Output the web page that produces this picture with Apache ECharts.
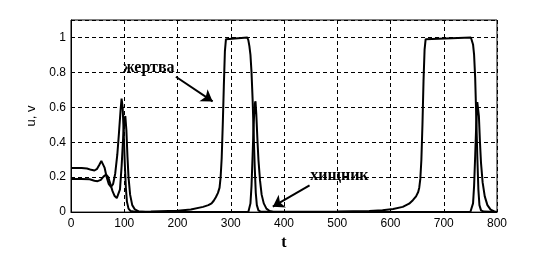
<!DOCTYPE html>
<html>
<head>
<meta charset="utf-8">
<script src="https://cdn.jsdelivr.net/npm/echarts@6/dist/echarts.min.js"></script>
<style>
  html, body { margin: 0; padding: 0; background: #fff; }
  #chart { width: 549px; height: 256px; }
</style>
</head>
<body>
<div id="chart"></div>
<script>
// t values for the x axis ticks
const tTicks = [0, 100, 200, 300, 400, 500, 600, 700, 800];
const uvTicks = [0, 0.2, 0.4, 0.6, 0.8, 1];

// жертва (prey), pairs of [t, u]
const prey = [
  [0, 0.252], [20, 0.252], [30, 0.25], [38, 0.242], [44, 0.238], [49, 0.248],
  [53, 0.27], [57, 0.293], [60, 0.285], [63, 0.255], [67, 0.2], [71, 0.16],
  [75, 0.145], [79, 0.16], [83, 0.22], [87, 0.33], [90, 0.45], [93, 0.58],
  [95, 0.65], [97, 0.6], [99, 0.45], [101, 0.28], [103, 0.14], [105, 0.06],
  [108, 0.02], [112, 0.006], [120, 0.002], [150, 0.003], [200, 0.008],
  [225, 0.015], [248, 0.03], [258, 0.04], [264, 0.05], [268, 0.065],
  [272, 0.085], [276, 0.11], [279, 0.14], [281, 0.2], [283, 0.31],
  [285, 0.5], [287, 0.72], [289, 0.92], [291, 0.99], [292.5, 1],
  [331, 1], [333, 0.985], [335, 0.95], [337, 0.9], [339, 0.8], [341, 0.65],
  [343, 0.45], [345, 0.26], [347, 0.11], [349, 0.04], [352, 0.01],
  [356, 0.003], [400, 0.002], [500, 0.004], [560, 0.007], [585, 0.011],
  [605, 0.018], [623, 0.03], [635, 0.048], [642, 0.068], [648, 0.09],
  [652, 0.115], [654, 0.14], [656, 0.19], [658, 0.3], [660, 0.5],
  [662, 0.75], [664, 0.93], [666, 0.99], [668, 1],
  [751, 1], [753, 0.99], [755, 0.96], [757, 0.9], [759, 0.77], [761, 0.55],
  [763, 0.32], [765, 0.13], [767, 0.04], [770, 0.01], [775, 0.003], [800, 0.001]
];

// хищник (predator), pairs of [t, v]
const predator = [
  [0, 0.19], [20, 0.19], [35, 0.188], [44, 0.18], [50, 0.177], [56, 0.185],
  [61, 0.203], [66, 0.215], [70, 0.2], [74, 0.16], [78, 0.12], [82, 0.092],
  [86, 0.08], [89, 0.085], [92, 0.13], [95, 0.26], [98, 0.43], [100, 0.52],
  [102, 0.55], [104, 0.47], [106, 0.32], [108, 0.2], [111, 0.1], [115, 0.04],
  [120, 0.015], [127, 0.004], [140, 0.001],
  [333, 0.001], [335, 0.01], [337, 0.05], [339, 0.15], [341, 0.32],
  [343, 0.5], [345, 0.62], [346.5, 0.634], [348, 0.56], [350, 0.42],
  [352, 0.3], [355, 0.18], [358, 0.1], [362, 0.05], [367, 0.02],
  [373, 0.006], [380, 0.001],
  [750, 0.001], [753, 0.01], [755, 0.05], [757, 0.15], [759, 0.32],
  [761, 0.5], [763, 0.63], [764, 0.64], [766, 0.55], [768, 0.4],
  [770, 0.28], [773, 0.17], [777, 0.09], [782, 0.04], [788, 0.014],
  [795, 0.004], [800, 0.001]
];

const chart = echarts.init(document.getElementById('chart'), null, { renderer: 'canvas' });

const noteFont = { fontFamily: 'Liberation Serif', fontWeight: 'bold', fontSize: 16, color: '#000' };

const option = {
  animation: false,
  grid: {
    left: 71, right: 52, top: 20, bottom: 42,
    show: true, borderColor: '#000', borderWidth: 1
  },
  xAxis: {
    type: 'value',
    min: tTicks[0], max: tTicks[tTicks.length - 1], interval: 100,
    name: 't', nameLocation: 'middle', nameGap: 20,
    nameTextStyle: { fontFamily: 'Liberation Serif', fontWeight: 'bold', fontSize: 16, color: '#000' },
    axisLine: { show: true, lineStyle: { color: '#000', width: 1 } },
    axisTick: { show: false },
    axisLabel: { color: '#000', fontFamily: 'Liberation Sans', fontSize: 12, margin: 6 },
    splitLine: { show: true, lineStyle: { color: '#000', type: [4, 3], width: 1 } }
  },
  yAxis: {
    type: 'value',
    min: uvTicks[0], max: 1.1, interval: 0.2,
    name: 'u, v', nameLocation: 'middle', nameGap: 32,
    nameTextStyle: { fontFamily: 'Liberation Sans', fontSize: 13, color: '#000' },
    axisLine: { show: true, lineStyle: { color: '#000', width: 1 } },
    axisTick: { show: false },
    axisLabel: { color: '#000', fontFamily: 'Liberation Sans', fontSize: 12, margin: 5, showMaxLabel: false },
    splitLine: { show: true, lineStyle: { color: '#000', type: [4, 3], width: 1 } }
  },
  series: [
    {
      name: 'жертва',
      type: 'line',
      data: prey,
      showSymbol: false,
      lineStyle: { color: '#000', width: 2 },
      itemStyle: { color: '#000' },
      markLine: {
        silent: true,
        symbol: ['none', 'arrow'],
        symbolSize: 11,
        label: { show: false },
        lineStyle: { color: '#000', width: 2, type: 'solid' },
        data: [[{ coord: [197, 0.775] }, { coord: [266, 0.634] }]]
      },
      markPoint: {
        silent: true,
        symbol: 'rect',
        symbolSize: 0,
        label: { show: true, position: 'inside', formatter: p => p.name, ...noteFont },
        data: [{ name: 'жертва', coord: [146, 0.825] }]
      }
    },
    {
      name: 'хищник',
      type: 'line',
      data: predator,
      showSymbol: false,
      lineStyle: { color: '#000', width: 2 },
      itemStyle: { color: '#000' },
      markLine: {
        silent: true,
        symbol: ['none', 'arrow'],
        symbolSize: 11,
        label: { show: false },
        lineStyle: { color: '#000', width: 2, type: 'solid' },
        data: [[{ coord: [448, 0.153] }, { coord: [379, 0.031] }]]
      },
      markPoint: {
        silent: true,
        symbol: 'rect',
        symbolSize: 0,
        label: { show: true, position: 'inside', formatter: p => p.name, ...noteFont },
        data: [{ name: 'хищник', coord: [504, 0.209] }]
      }
    }
  ]
};

chart.setOption(option);
</script>
</body>
</html>
